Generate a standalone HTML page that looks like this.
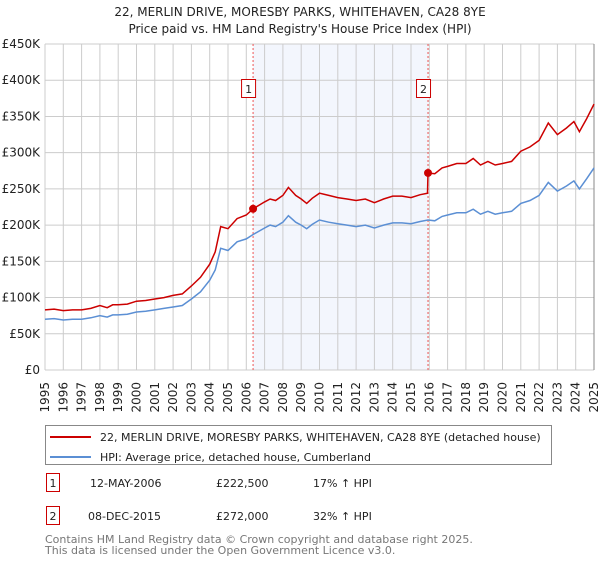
<!DOCTYPE html>
<html><head><meta charset="utf-8"><style>
body{margin:0;background:#fff;width:600px;height:560px;overflow:hidden;font-family:"DejaVu Sans","Liberation Sans",sans-serif;}
svg text{font-family:"DejaVu Sans","Liberation Sans",sans-serif;}
</style></head><body>
<svg id="chart" width="600" height="560" xmlns="http://www.w3.org/2000/svg">
<text x="300" y="16" font-size="12" text-anchor="middle" fill="#222">22, MERLIN DRIVE, MORESBY PARKS, WHITEHAVEN, CA28 8YE</text>
<text x="300" y="33" font-size="12" text-anchor="middle" fill="#222">Price paid vs. HM Land Registry's House Price Index (HPI)</text>
<g id="plot"></g>
<g>
<rect x="45.5" y="425.5" width="506" height="39" fill="#fff" stroke="#888"/>
<line x1="50" y1="437" x2="91" y2="437" stroke="#cc0000" stroke-width="2"/>
<text x="100" y="441" font-size="11" fill="#222">22, MERLIN DRIVE, MORESBY PARKS, WHITEHAVEN, CA28 8YE (detached house)</text>
<line x1="50" y1="457" x2="91" y2="457" stroke="#5b8fd4" stroke-width="2"/>
<text x="100" y="461" font-size="11" fill="#222">HPI: Average price, detached house, Cumberland</text>
</g>
<g font-size="11" fill="#222">
<rect x="46.5" y="473.5" width="13" height="18" fill="#fff" stroke="#cc0000"/>
<text x="53" y="487" text-anchor="middle">1</text>
<text x="90" y="487">12-MAY-2006</text>
<text x="216" y="487">£222,500</text>
<text x="313" y="487">17% ↑ HPI</text>
<rect x="46.5" y="506.5" width="13" height="18" fill="#fff" stroke="#cc0000"/>
<text x="53" y="520" text-anchor="middle">2</text>
<text x="88" y="520">08-DEC-2015</text>
<text x="216" y="520">£272,000</text>
<text x="313" y="520">32% ↑ HPI</text>
</g>
<text x="45" y="543" font-size="11" fill="#777">Contains HM Land Registry data © Crown copyright and database right 2025.</text>
<text x="45" y="554" font-size="11" fill="#777">This data is licensed under the Open Government Licence v3.0.</text>
</svg>
<script>
const yTicks=[0,50,100,150,200,250,300,350,400,450];
const yTickLabels=["£0","£50K","£100K","£150K","£200K","£250K","£300K","£350K","£400K","£450K"];
const xYears=[1995,1996,1997,1998,1999,2000,2001,2002,2003,2004,2005,2006,2007,2008,2009,2010,2011,2012,2013,2014,2015,2016,2017,2018,2019,2020,2021,2022,2023,2024,2025];
const hpiDates=[1995.0,1995.5,1996.0,1996.5,1997.0,1997.5,1998.0,1998.4,1998.7,1999.0,1999.5,2000.0,2000.5,2001.0,2001.5,2002.0,2002.5,2003.0,2003.5,2004.0,2004.3,2004.6,2005.0,2005.5,2006.0,2006.37,2007.0,2007.3,2007.6,2008.0,2008.3,2008.7,2009.0,2009.3,2009.6,2010.0,2010.5,2011.0,2011.5,2012.0,2012.5,2013.0,2013.5,2014.0,2014.5,2015.0,2015.5,2015.93,2016.3,2016.7,2017.0,2017.5,2018.0,2018.4,2018.8,2019.2,2019.6,2020.0,2020.5,2021.0,2021.5,2022.0,2022.5,2023.0,2023.5,2023.9,2024.2,2024.6,2025.0];
const hpiValues=[70,71,69,70,70,72,75,73,76,76,77,80,81,83,85,87,89,98,108,124,138,168,165,177,181,187,196,200,198,204,213,204,200,195,201,207,204,202,200,198,200,196,200,203,203,202,205,207,206,212,214,217,217,222,215,219,215,217,219,230,234,241,259,247,254,261,250,264,279];
const propDates=[1995.0,1995.5,1996.0,1996.5,1997.0,1997.5,1998.0,1998.4,1998.7,1999.0,1999.5,2000.0,2000.5,2001.0,2001.5,2002.0,2002.5,2003.0,2003.5,2004.0,2004.3,2004.6,2005.0,2005.5,2006.0,2006.37,2007.0,2007.3,2007.6,2008.0,2008.3,2008.7,2009.0,2009.3,2009.6,2010.0,2010.5,2011.0,2011.5,2012.0,2012.5,2013.0,2013.5,2014.0,2014.5,2015.0,2015.5,2015.9,2015.93,2016.3,2016.7,2017.0,2017.5,2018.0,2018.4,2018.8,2019.2,2019.6,2020.0,2020.5,2021.0,2021.5,2022.0,2022.5,2023.0,2023.5,2023.9,2024.2,2024.6,2025.0];
const propValues=[83,84,82,83,83,85,89,86,90,90,91,95,96,98,100,103,105,116,128,146,163,198,195,209,214,222.5,232,236,234,241,252,241,236,230,237,244,241,238,236,234,236,231,236,240,240,238,242,244,272,271,279,281,285,285,292,283,288,283,285,288,302,308,317,341,325,334,343,329,347,367];
const saleDates=[2006.37,2015.93];
const saleValues=[222.5,272];
const saleLabels=["1","2"];

const NS="http://www.w3.org/2000/svg";
const X0=45,X1=594,Y0=370,Y1=44;
const xs=d=>X0+(d-1995)/(2025-1995)*(X1-X0);
const ys=v=>Y0-v/450*(Y0-Y1);
const g=document.getElementById('plot');
function mk(t,a){const e=document.createElementNS(NS,t);for(const k in a)e.setAttribute(k,a[k]);g.appendChild(e);return e;}
let r=mk('rect',{x:xs(saleDates[0]),y:Y1,width:xs(saleDates[1])-xs(saleDates[0]),height:Y0-Y1,fill:'#f3f6fd'});


xYears.forEach(y=>{const l=mk('line',{x1:xs(y),x2:xs(y),y1:Y1,y2:Y0,stroke:'#cccccc'});


const tx=xs(y)+4,ty=382;
const t=mk('text',{x:tx,y:ty,'font-size':12,'text-anchor':'end',fill:'#222',transform:'rotate(-90 '+tx+' '+ty+')'});t.textContent=y;

});
yTicks.forEach((v,i)=>{const l=mk('line',{x1:X0,x2:X1,y1:ys(v),y2:ys(v),stroke:'#cccccc'});


const t=mk('text',{x:40,y:ys(v)+4,'font-size':12,'text-anchor':'end',fill:'#222'});t.textContent=yTickLabels[i];

});
mk('line',{x1:X1,x2:X1,y1:Y1,y2:Y0,stroke:'#888'});
saleDates.forEach((d,i)=>{const l=mk('line',{x1:xs(d),x2:xs(d),y1:Y1,y2:Y0,stroke:'#ee5555','stroke-dasharray':'2,2'});


const b=mk('rect',{x:xs(d)-11.5,y:79.5,width:14,height:18,fill:'#fff',stroke:'#cc0000'});


const t=mk('text',{x:xs(d)-4.5,y:93,'font-size':11,'text-anchor':'middle',fill:'#222'});t.textContent=saleLabels[i];

});
function path(ds,vs,c,n){const p=mk('path',{d:ds.map((d,i)=>(i?'L':'M')+xs(d).toFixed(1)+','+ys(vs[i]).toFixed(1)).join(''),fill:'none',stroke:c,'stroke-width':1.5});

}
path(hpiDates,hpiValues,'#5b8fd4','hpi-line');
path(propDates,propValues,'#cc0000','property-price-line');
saleDates.forEach((d,i)=>{const c=mk('circle',{cx:xs(d),cy:ys(saleValues[i]),r:4,fill:'#cc0000'});

});
</script>
</body></html>
